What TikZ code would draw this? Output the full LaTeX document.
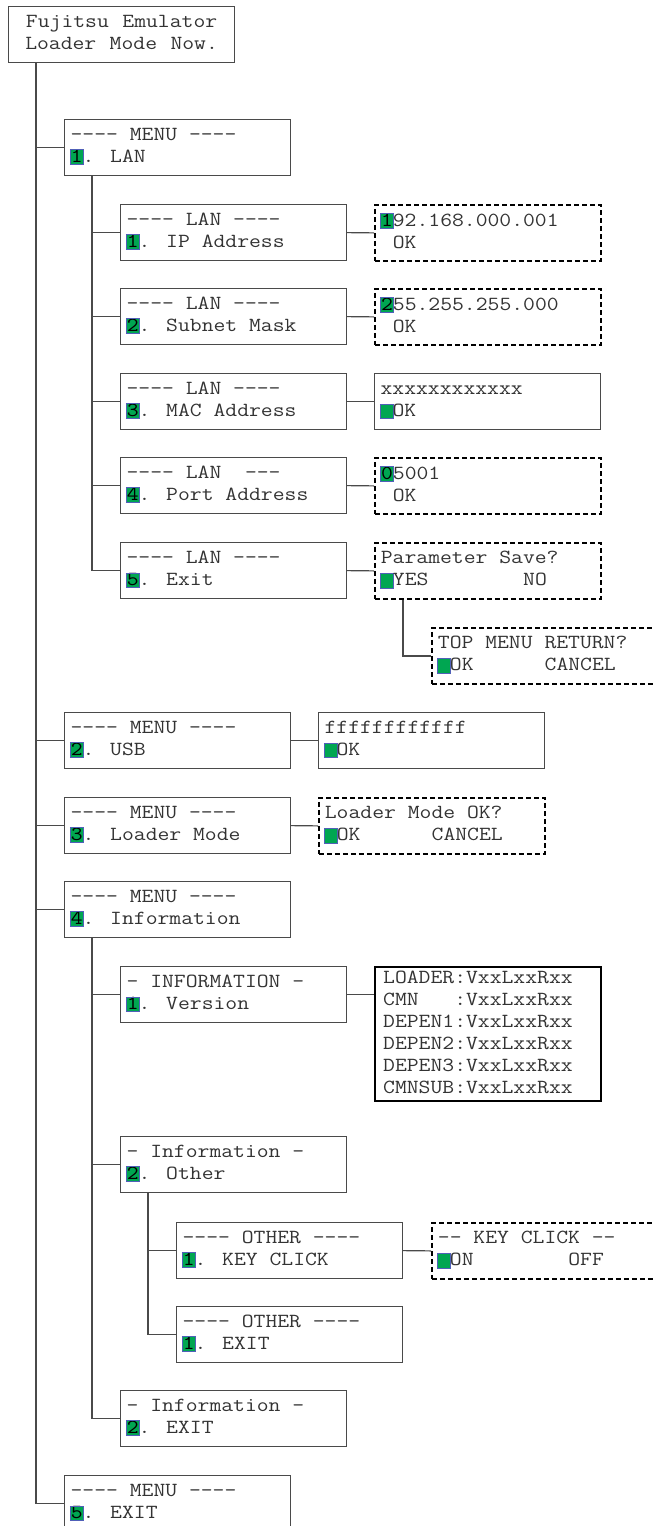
\documentclass[tikz,border=0pt]{standalone}
\usepackage{fontspec}
\newfontfamily\lcdfont[FakeStretch=1.15,Ligatures=TeXOff]{Latin Modern Mono}
\definecolor{curgreen}{HTML}{00A651}
\definecolor{curblue}{HTML}{5060B8}
\definecolor{lcdtext}{HTML}{333333}
\definecolor{lcdline}{HTML}{4A4A4A}
% cursor cell and line strut
\newcommand\curs[1]{\makebox[12pt][l]{\hspace{-0.8pt}\fboxsep=0pt\fboxrule=0.6pt\fcolorbox{curblue}{curgreen}{\makebox[12.6pt]{\rule[-1.8pt]{0pt}{14pt}\color{black}#1}}}}
\newcommand\ls{\rule[-4.6pt]{0pt}{17pt}\spaceskip=0pt\xspaceskip=0pt}
\begin{document}
\begin{tikzpicture}[
    x=1pt, y=-1pt,
    mbox/.style={draw=lcdline, line width=1.2pt, anchor=north west, minimum height=56pt, text width=214pt, inner xsep=6pt, align=left, font=\lcdfont\fontsize{20}{22}\selectfont, text=lcdtext, execute at begin node=\ls, execute at end node=\ls},
    dbox/.style={mbox, draw=black, line width=1.8pt, dash pattern=on 5pt off 3pt},
    vbox/.style={mbox, draw=black, line width=2.4pt, inner xsep=8pt, text width=210pt},
    link/.style={draw=lcdline, line width=1.2pt},
]
\useasboundingbox (0,0) rectangle (654,1526);
\clip (0,0) rectangle (654,1526);
\node[mbox, align=center] (top) at (8,6) {Fujitsu Emulator\\Loader Mode Now.};
\node[mbox] (m1) at (64,119) {---- MENU ----\\\curs{1}. LAN};
\node[mbox] (lan1) at (120,204) {---- LAN ----\\\curs{1}. IP Address};
\node[dbox] (ip) at (374,204) {\curs{1}92.168.000.001\\~OK};
\node[mbox] (lan2) at (120,288) {---- LAN ----\\\curs{2}. Subnet Mask};
\node[dbox] (mask) at (374,288) {\curs{2}55.255.255.000\\~OK};
\node[mbox] (lan3) at (120,373) {---- LAN ----\\\curs{3}. MAC Address};
\node[mbox] (mac) at (374,373) {xxxxxxxxxxxx\\\curs{}OK};
\node[mbox] (lan4) at (120,457) {---- LAN~~---\\\curs{4}. Port Address};
\node[dbox] (port) at (374,457) {\curs{0}5001\\~OK};
\node[mbox] (lan5) at (120,542) {---- LAN ----\\\curs{5}. Exit};
\node[dbox] (save) at (374,542) {Parameter Save?\\\curs{}YES~~~~~~~~NO};
\node[dbox] (ret) at (431,627) {TOP MENU RETURN?\\\curs{}OK~~~~~~CANCEL};
\node[mbox] (m2) at (64,712) {---- MENU ----\\\curs{2}. USB};
\node[mbox] (usb) at (318,712) {ffffffffffff\\\curs{}OK};
\node[mbox] (m3) at (64,797) {---- MENU ----\\\curs{3}. Loader Mode};
\node[dbox] (ldr) at (318,797) {Loader Mode OK?\\\curs{}OK~~~~~~CANCEL};
\node[mbox] (m4) at (64,881) {---- MENU ----\\\curs{4}. Information};
\node[mbox] (inf1) at (120,966) {- INFORMATION -\\\curs{1}. Version};
\node[vbox] (ver) at (374,966) {LOADER:VxxLxxRxx\\CMN~~~:VxxLxxRxx\\DEPEN1:VxxLxxRxx\\DEPEN2:VxxLxxRxx\\DEPEN3:VxxLxxRxx\\CMNSUB:VxxLxxRxx};
\node[mbox] (inf2) at (120,1136) {- Information -\\\curs{2}. Other};
\node[mbox] (oth1) at (176,1222) {---- OTHER ----\\\curs{1}. KEY CLICK};
\node[dbox] (click) at (431,1222) {-- KEY CLICK --\\\curs{}ON~~~~~~~~OFF};
\node[mbox] (oth2) at (176,1306) {---- OTHER ----\\\curs{1}. EXIT};
\node[mbox] (inf3) at (120,1390) {- Information -\\\curs{2}. EXIT};
\node[mbox] (m5) at (64,1475) {---- MENU ----\\\curs{5}. EXIT};
% tree lines
\coordinate (r0) at ([xshift=28pt]top.south west);
\coordinate (r1) at ([xshift=28pt]m1.south west);
\coordinate (r2) at ([xshift=29pt]save.south west);
\coordinate (r3) at ([xshift=28pt]m4.south west);
\coordinate (r4) at ([xshift=28pt]inf2.south west);
\draw[link] (r0) |- (m5.west);
\draw[link] (r0 |- m1.west) -- (m1.west);
\draw[link] (r0 |- m2.west) -- (m2.west);
\draw[link] (r0 |- m3.west) -- (m3.west);
\draw[link] (r0 |- m4.west) -- (m4.west);
\draw[link] (r1) |- (lan5.west);
\draw[link] (r1 |- lan1.west) -- (lan1.west);
\draw[link] (r1 |- lan2.west) -- (lan2.west);
\draw[link] (r1 |- lan3.west) -- (lan3.west);
\draw[link] (r1 |- lan4.west) -- (lan4.west);
\draw[link] (lan1.east) -- (ip.west);
\draw[link] (lan2.east) -- (mask.west);
\draw[link] (lan3.east) -- (mac.west);
\draw[link] (lan4.east) -- (port.west);
\draw[link] (lan5.east) -- (save.west);
\draw[link] (r2) |- (ret.west);
\draw[link] (m2.east) -- (usb.west);
\draw[link] (m3.east) -- (ldr.west);
\draw[link] (r3) |- (inf3.west);
\draw[link] (r3 |- inf1.west) -- (inf1.west);
\draw[link] (r3 |- inf2.west) -- (inf2.west);
\draw[link] (inf1.east) -- (inf1.east -| ver.west);
\draw[link] (r4) |- (oth2.west);
\draw[link] (r4 |- oth1.west) -- (oth1.west);
\draw[link] (oth1.east) -- (click.west);
\end{tikzpicture}
\end{document}
